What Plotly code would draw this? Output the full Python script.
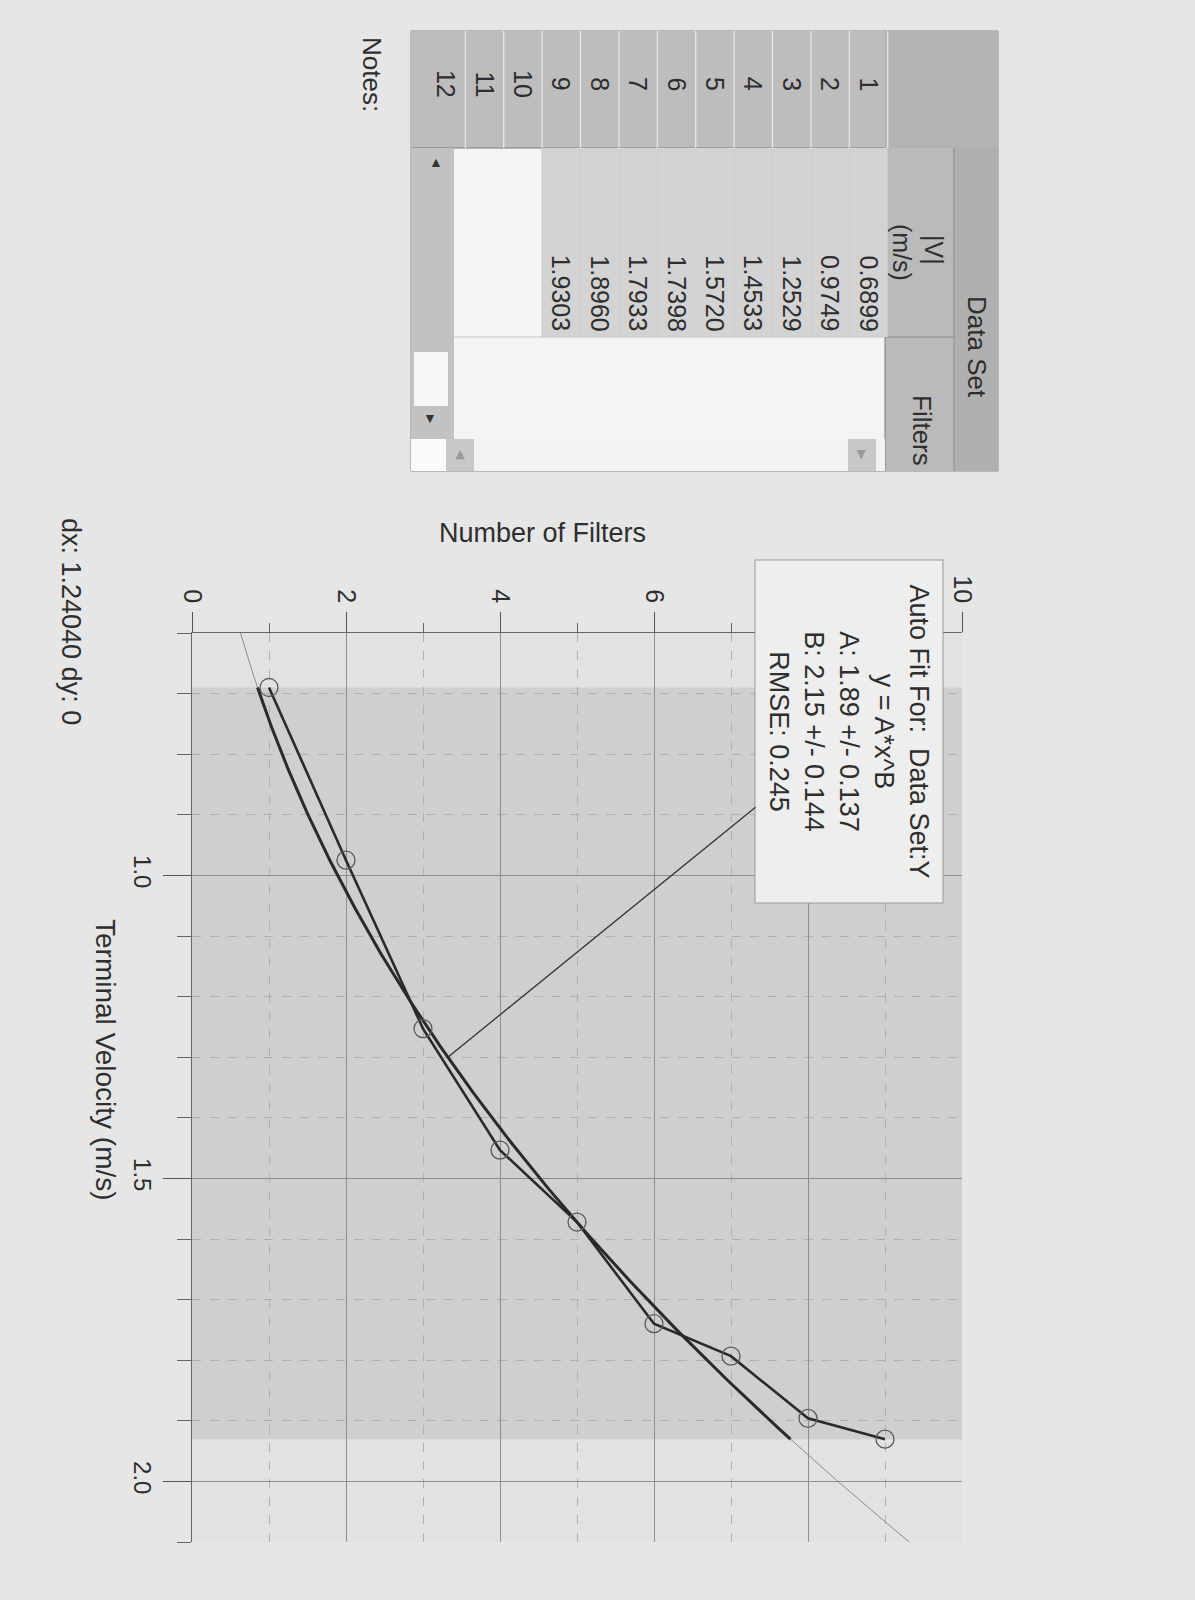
import numpy as np
import plotly.graph_objects as go

# ---------------- data ----------------
filters = [1, 2, 3, 4, 5, 6, 7, 8, 9]
velocity = [0.6899, 0.9749, 1.2529, 1.4533, 1.5720, 1.7398, 1.7933, 1.8960, 1.9303]
row_numbers = list(range(1, 13))
fit_A = 1.89
fit_A_err = 0.137
fit_B = 2.15
fit_B_err = 0.144
fit_rmse = 0.245
filter_ticks = [0, 2, 4, 6, 8, 10]
velocity_ticks = [1.0, 1.5, 2.0]
velocity_range = [0.6, 2.1]
filter_range = [0, 10]
leader_v = 1.30
cursor_dx = "1.24040"
cursor_dy = "0"

FONT = "Liberation Sans, Arial, sans-serif"
INK = "#2e2e2e"

# plot area in page pixels (the printout is photographed rotated by 90 degrees)
X0, X1 = 192, 962
Y0, Y1 = 633, 1542
W, H = 1195, 1600


def px(x):
    return (x - X0) / (X1 - X0)


def py(y):
    return (Y1 - y) / (Y1 - Y0)


def fit(v):
    return fit_A * np.power(v, fit_B)


fig = go.Figure()

v_all = np.linspace(velocity_range[0], velocity_range[1], 200)
fig.add_trace(go.Scatter(x=fit(v_all), y=v_all, mode="lines",
                         line=dict(color="#8c8c8c", width=1), hoverinfo="skip",
                         showlegend=False))
v_sel = np.linspace(min(velocity), max(velocity), 200)
fig.add_trace(go.Scatter(x=fit(v_sel), y=v_sel, mode="lines",
                         line=dict(color="#2a2a2a", width=3), showlegend=False,
                         name="Auto Fit"))
fig.add_trace(go.Scatter(x=filters, y=velocity, mode="lines+markers",
                         line=dict(color="#2a2a2a", width=2.6),
                         marker=dict(symbol="circle-open", size=18, color="#5a5a5a",
                                     line=dict(width=1.3)),
                         showlegend=False, name="Data Set"))

shapes = []
annotations = []

shapes.append(dict(type="rect", xref="paper", yref="y", x0=0, x1=1,
                   y0=min(velocity), y1=max(velocity),
                   fillcolor="#cfcfcf", line=dict(width=0), layer="below"))


def rect(x0, y0, x1, y1, fill, line_color=None, lw=0):
    shapes.append(dict(type="rect", xref="paper", yref="paper",
                       x0=px(x0), x1=px(x1), y0=py(y1), y1=py(y0),
                       fillcolor=fill,
                       line=dict(color=line_color or fill, width=lw)))


def line(x0, y0, x1, y1, color, lw=1, dash="solid"):
    shapes.append(dict(type="line", xref="paper", yref="paper",
                       x0=px(x0), x1=px(x1), y0=py(y0), y1=py(y1),
                       line=dict(color=color, width=lw, dash=dash)))


def text(x, y, s, size=25, color=INK, angle=90, **kw):
    annotations.append(dict(xref="paper", yref="paper", x=px(x), y=py(y), text=s,
                            showarrow=False, textangle=angle,
                            font=dict(family=FONT, size=size, color=color),
                            xanchor="center", yanchor="middle", **kw))


# ---------------- data table (rotated) ----------------
T_L, T_R, T_T, T_B = 411, 998, 31, 471
rect(T_L, T_T, T_R, T_B, "#f4f4f4", "#8a8a8a", 1)
rect(T_L, T_T, 885, 148, "#bdbdbd")
rect(885, T_T, T_R, 148, "#b3b3b3")
rect(954, 148, T_R, T_B, "#b0b0b0")
rect(885, 148, 954, T_B, "#bababa")
line(885, 337, 954, 337, "#8a8a8a", 1)
line(954, 148, 954, T_B, "#8a8a8a", 1)
line(885, 148, 885, T_B, "#7a7a7a", 1)
line(T_L, 148, 885, 148, "#7a7a7a", 1)

row_h = 38.4
row1_c = 868.5
for i in row_numbers:
    c = row1_c - (i - 1) * row_h
    hi = c + row_h / 2
    line(hi, T_T, hi, 148, "#e9e9e9", 1.2)
    text(c, 84, str(i), size=25)
for i, v in enumerate(velocity):
    c = row1_c - i * row_h
    rect(c - row_h / 2, 148, c + row_h / 2, 337, "#d3d3d3")
    line(c - row_h / 2, 148, c - row_h / 2, 337, "#c6c6c6", 1)
    text(c, 293, f"{v:.4f}", size=25)
line(T_L, 337, 885, 337, "#c9c9c9", 1)

text(977, 347, "Data Set", size=26)
text(934, 250, "|V|", size=25)
text(902, 252, "(m/s)", size=25)
text(922, 430, "Filters", size=26)

rect(T_L, 148, 454, 439, "#c2c2c2")
rect(414, 352, 448, 406, "#f7f7f7")
text(436, 162, "▲", size=14, color="#333", angle=0)
text(430, 418, "▼", size=14, color="#333", angle=0)
rect(454, 439, 885, T_B, "#f2f2f2")
rect(446, 439, 474, T_B, "#c8c8c8")
rect(848, 439, 876, T_B, "#c8c8c8")
text(461, 455, "◀", size=12, color="#9a9a9a", angle=90)
text(862, 455, "▶", size=12, color="#9a9a9a", angle=90)
rect(T_L, 439, 446, T_B, "#fafafa")

# notes / cursor readout
text(372, 74, "Notes:", size=26)
text(71, 621, f"dx: {cursor_dx} dy: {cursor_dy}", size=27)

# ---------------- axis titles ----------------
annotations.append(dict(xref="paper", yref="paper", x=px(542), y=py(533),
                        text="Number of Filters", showarrow=False, textangle=0,
                        font=dict(family=FONT, size=27, color=INK),
                        xanchor="center", yanchor="middle"))
text(106, 1060, "Terminal Velocity (m/s)", size=28)

# ---------------- auto fit box with leader ----------------
box_cx, box_cy = 849.5, 731
lead_n = float(fit(leader_v))
lead_px = X0 + (lead_n - filter_range[0]) / (filter_range[1] - filter_range[0]) * (X1 - X0)
lead_py = Y0 + (leader_v - velocity_range[0]) / (velocity_range[1] - velocity_range[0]) * (Y1 - Y0)
fit_text = ("Auto Fit For:\u00a0 Data Set:Y<br>y = A*x^B<br>"
            f"A: {fit_A:.2f} +/- {fit_A_err:.3f}<br>B: {fit_B:.2f} +/- {fit_B_err:.3f}<br>"
            f"RMSE: {fit_rmse:.3f}")
annotations.append(dict(xref="x", yref="y", x=lead_n, y=leader_v, text=fit_text,
                        showarrow=True, arrowhead=0, arrowwidth=1.3, arrowcolor="#333",
                        ax=box_cx - lead_px, ay=box_cy - lead_py, standoff=0,
                        textangle=90, align="center", width=338, height=183,
                        bgcolor="#eeeeee", bordercolor="#9a9a9a", borderwidth=1,
                        borderpad=2,
                        font=dict(family=FONT, size=27, color=INK)))

fig.update_layout(
    width=W, height=H,
    margin=dict(l=X0, r=W - X1, t=Y0, b=H - Y1, pad=0),
    paper_bgcolor="#e6e6e6",
    plot_bgcolor="#e2e2e2",
    font=dict(family=FONT, color=INK),
    showlegend=False,
    xaxis=dict(range=filter_range, side="top", showline=True, linecolor="#666",
               linewidth=1.2, ticks="outside", ticklen=20, tickwidth=1.2,
               tickcolor="#555", tickvals=filter_ticks, tickangle=90,
               tickfont=dict(size=25, color=INK, family=FONT),
               showgrid=True, gridcolor="#8e8e8e", gridwidth=1, zeroline=False,
               minor=dict(dtick=1, tick0=0, ticks="outside", ticklen=9,
                          tickcolor="#666", showgrid=True, gridcolor="#b0b0b0",
                          griddash="dash")),
    yaxis=dict(range=velocity_range[::-1], showline=True, linecolor="#666",
               linewidth=1.2, ticks="outside", ticklen=28, tickwidth=1.2,
               tickcolor="#555", tickvals=velocity_ticks,
               ticktext=[f"{t:.1f}" for t in velocity_ticks],
               tickangle=90, tickfont=dict(size=24, color=INK, family=FONT),
               showgrid=True, gridcolor="#8e8e8e", gridwidth=1, zeroline=False,
               minor=dict(dtick=0.1, tick0=0, ticks="outside", ticklen=14,
                          tickcolor="#666", showgrid=True, gridcolor="#b0b0b0",
                          griddash="dash")),
    shapes=shapes,
    annotations=annotations,
)

fig.write_html("out.html", config={"displayModeBar": False},
               post_script="document.body.style.margin='0px';document.body.style.overflow='hidden';")
